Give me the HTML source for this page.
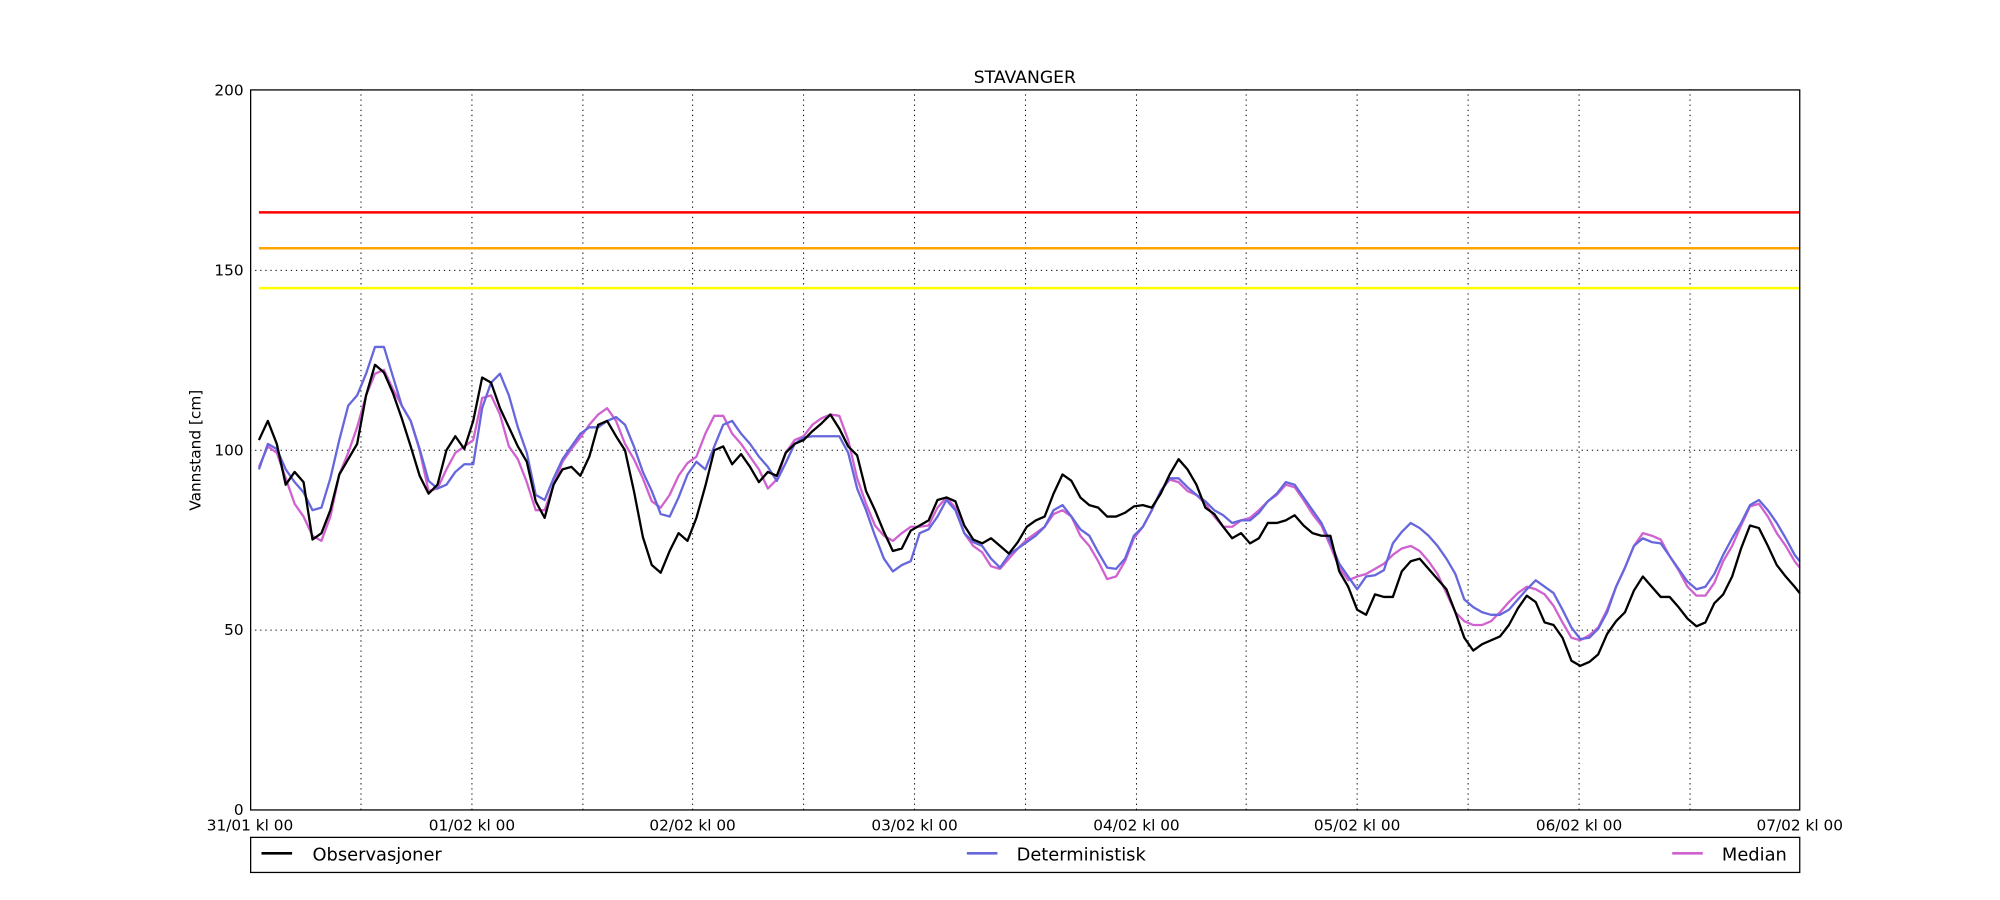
<!DOCTYPE html>
<html><head><meta charset="utf-8"><style>html,body{margin:0;padding:0;background:#fff}svg{display:block}</style></head>
<body>
<svg width="2000" height="900" viewBox="0 0 1568 705.6" xmlns="http://www.w3.org/2000/svg" font-family="DejaVu Sans, Liberation Sans, sans-serif">
<rect width="1568" height="705.6" fill="#fff"/>
<text x="803.5" y="65" font-size="13.5" text-anchor="middle">STAVANGER</text>
<g stroke="#000" stroke-width="0.8" stroke-dasharray="1,3">
<line x1="283" y1="70" x2="283" y2="635"/><line x1="370" y1="70" x2="370" y2="635"/><line x1="457" y1="70" x2="457" y2="635"/><line x1="543" y1="70" x2="543" y2="635"/><line x1="630" y1="70" x2="630" y2="635"/><line x1="717" y1="70" x2="717" y2="635"/><line x1="804" y1="70" x2="804" y2="635"/><line x1="891" y1="70" x2="891" y2="635"/><line x1="977" y1="70" x2="977" y2="635"/><line x1="1064" y1="70" x2="1064" y2="635"/><line x1="1151" y1="70" x2="1151" y2="635"/><line x1="1238" y1="70" x2="1238" y2="635"/><line x1="1325" y1="70" x2="1325" y2="635"/>
<line x1="196" y1="212" x2="1411" y2="212"/><line x1="196" y1="353" x2="1411" y2="353"/><line x1="196" y1="494" x2="1411" y2="494"/>
</g>
<line x1="203" y1="166.5" x2="1411" y2="166.5" stroke="#ff0000" stroke-width="2"/>
<line x1="203" y1="194.6" x2="1411" y2="194.6" stroke="#ffa500" stroke-width="2"/>
<line x1="203" y1="225.9" x2="1411" y2="225.9" stroke="#ffff00" stroke-width="2"/>
<g fill="none" stroke-width="1.8" stroke-linejoin="round">
<polyline stroke="#d062d0" points="203,366 210,350 217,355 224,375 231,395 238,405 245,420 252,424 259,405 266,372 273,355 280,335 287,310 294,293 301,290 308,305 315,318 322,330 329,353 336,385 343,383 350,368 357,355 364,350 371,345 378,312 385,310 392,325 399,350 406,360 413,378 420,400 427,400 434,380 441,362 448,352 455,343 462,333 469,325 476,320 483,330 490,348 497,360 504,375 511,393 518,398 525,388 532,373 539,363 546,358 553,340 560,326 567,326 574,340 581,348 588,358 595,368 602,383 609,376 616,355 623,345 630,342 637,333 644,328 651,325 658,326 665,345 672,375 679,395 686,412 693,420 700,424 707,418 714,413 721,413 728,412 735,398 742,390 749,398 756,418 763,428 770,433 777,444 784,446 791,438 798,430 805,423 812,418 819,413 826,403 833,400 840,405 847,420 854,428 861,440 868,454 875,452 882,440 889,422 896,413 903,400 910,385 917,376 924,378 931,385 938,388 945,395 952,405 959,413 966,413 973,408 980,406 987,400 994,393 1001,388 1008,380 1015,382 1022,392 1029,403 1036,412 1043,428 1050,445 1057,455 1064,452 1071,450 1078,446 1085,442 1092,435 1099,430 1106,428 1113,432 1120,440 1127,450 1134,465 1141,480 1148,487 1155,490 1162,490 1169,487 1176,480 1183,472 1190,465 1197,460 1204,462 1211,466 1218,475 1225,488 1232,500 1239,502 1246,498 1253,492 1260,478 1267,460 1274,445 1281,428 1288,418 1295,420 1302,423 1309,436 1316,447 1323,460 1330,467 1337,467 1344,457 1351,440 1358,428 1365,412 1372,397 1379,395 1386,405 1393,418 1400,428 1407,440 1411,445"/>
<polyline stroke="#6666dd" points="203,368 210,348 217,352 224,368 231,378 238,386 245,400 252,398 259,375 266,345 273,318 280,310 287,293 294,272 301,272 308,295 315,318 322,330 329,352 336,377 343,383 350,380 357,370 364,364 371,364 378,320 385,300 392,293 399,310 406,335 413,355 420,388 427,392 434,375 441,360 448,350 455,340 462,335 469,335 476,330 483,327 490,333 497,350 504,370 511,385 518,403 525,405 532,390 539,372 546,362 553,368 560,350 567,333 574,330 581,340 588,348 595,358 602,366 609,377 616,363 623,348 630,343 637,342 644,342 651,342 658,342 665,355 672,383 679,400 686,420 693,438 700,448 707,443 714,440 721,418 728,415 735,405 742,392 749,400 756,418 763,425 770,428 777,438 784,445 791,435 798,430 805,425 812,420 819,413 826,400 833,396 840,405 847,415 854,420 861,433 868,445 875,446 882,438 889,420 896,413 903,400 910,385 917,375 924,375 931,382 938,388 945,393 952,400 959,404 966,410 973,408 980,408 987,402 994,393 1001,387 1008,378 1015,380 1022,390 1029,400 1036,410 1043,425 1050,442 1057,452 1064,462 1071,452 1078,451 1085,447 1092,426 1099,417 1106,410 1113,414 1120,420 1127,428 1134,438 1141,450 1148,470 1155,476 1162,480 1169,482 1176,482 1183,478 1190,470 1197,462 1204,455 1211,460 1218,465 1225,478 1232,492 1239,501 1246,500 1253,493 1260,480 1267,460 1274,445 1281,428 1288,422 1295,425 1302,426 1309,436 1316,446 1323,456 1330,462 1337,460 1344,450 1351,435 1358,422 1365,410 1372,396 1379,392 1386,400 1393,410 1400,422 1407,435 1411,440"/>
<polyline stroke="#000" points="203,345 210,330 217,348 224,380 231,370 238,378 245,423 252,418 259,400 266,372 273,360 280,348 287,310 294,286 301,292 308,308 315,328 322,350 329,373 336,387 343,380 350,353 357,342 364,352 371,330 378,296 385,300 392,320 399,335 406,350 413,362 420,393 427,406 434,380 441,368 448,366 455,373 462,358 469,333 476,330 483,342 490,353 497,385 504,421 511,443 518,449 525,432 532,418 539,424 546,406 553,381 560,353 567,350 574,364 581,356 588,366 595,378 602,370 609,373 616,355 623,348 630,345 637,338 644,332 651,325 658,336 665,350 672,357 679,385 686,400 693,417 700,432 707,430 714,416 721,412 728,408 735,392 742,390 749,393 756,412 763,423 770,426 777,422 784,428 791,434 798,425 805,413 812,408 819,405 826,387 833,372 840,377 847,390 854,396 861,398 868,405 875,405 882,402 889,397 896,396 903,398 910,387 917,372 924,360 931,368 938,380 945,398 952,403 959,413 966,422 973,418 980,426 987,422 994,410 1001,410 1008,408 1015,404 1022,412 1029,418 1036,420 1043,420 1050,448 1057,460 1064,478 1071,482 1078,466 1085,468 1092,468 1099,448 1106,440 1113,438 1120,446 1127,454 1134,462 1141,480 1148,500 1155,510 1162,505 1169,502 1176,499 1183,490 1190,477 1197,467 1204,472 1211,488 1218,490 1225,500 1232,518 1239,522 1246,519 1253,513 1260,497 1267,487 1274,480 1281,463 1288,452 1295,460 1302,468 1309,468 1316,476 1323,485 1330,491 1337,488 1344,473 1351,466 1358,452 1365,430 1372,412 1379,414 1386,428 1393,443 1400,452 1407,460 1411,465"/>
</g>
<rect x="196.5" y="70.5" width="1214.5" height="564.5" fill="none" stroke="#000" stroke-width="1"/>
<g font-size="12" text-anchor="end">
<text x="191" y="75">200</text><text x="191" y="216">150</text><text x="191" y="357">100</text><text x="191" y="498">50</text><text x="191" y="639">0</text>
</g>
<g font-size="12" text-anchor="middle">
<text x="196" y="651">31/01 kl 00</text><text x="370" y="651">01/02 kl 00</text><text x="543" y="651">02/02 kl 00</text><text x="717" y="651">03/02 kl 00</text><text x="891" y="651">04/02 kl 00</text><text x="1064" y="651">05/02 kl 00</text><text x="1238" y="651">06/02 kl 00</text><text x="1411" y="651">07/02 kl 00</text>
</g>
<text transform="translate(157,353) rotate(-90)" font-size="12" text-anchor="middle">Vannstand [cm]</text>
<rect x="196.5" y="656.5" width="1214.5" height="27.5" fill="#fff" stroke="#000" stroke-width="1"/>
<line x1="205" y1="669" x2="229" y2="669" stroke="#000" stroke-width="2"/>
<text x="245" y="674.5" font-size="14">Observasjoner</text>
<line x1="758" y1="669" x2="782" y2="669" stroke="#6666dd" stroke-width="2"/>
<text x="797" y="674.5" font-size="14">Deterministisk</text>
<line x1="1311" y1="669" x2="1335" y2="669" stroke="#d062d0" stroke-width="2"/>
<text x="1350" y="674.5" font-size="14">Median</text>
</svg>
</body></html>
